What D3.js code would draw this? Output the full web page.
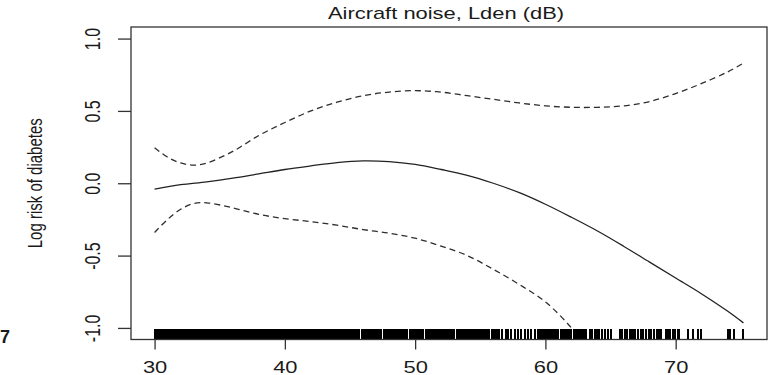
<!DOCTYPE html>
<html>
<head>
<meta charset="utf-8">
<script src="https://cdn.jsdelivr.net/npm/d3@7"></script>
<style>
  html, body { margin: 0; padding: 0; background: #fff; }
  svg { display: block; }
  text { font-family: "Liberation Sans", Arial, sans-serif; fill: #1a1a1a; }
</style>
</head>
<body>
<svg id="chart" width="769" height="375"></svg>
<script>
// Smooth term for aircraft noise (Lden, dB) on log risk of diabetes
const fitX = [30, 32, 34, 36, 38, 40, 42, 44, 46, 48, 50, 52, 54, 56, 58, 60, 62, 64, 66, 68, 70, 72, 74, 75.2];
const fitY = [-0.04, -0.01, 0.01, 0.035, 0.065, 0.095, 0.12, 0.143, 0.155, 0.15, 0.13, 0.095, 0.055, 0.0, -0.065, -0.145, -0.235, -0.33, -0.435, -0.545, -0.655, -0.765, -0.885, -0.965];

// Upper and lower confidence bands
const upperX = [30, 31, 32, 33, 34, 36, 38, 40, 42, 44, 46, 48, 50, 52, 54, 56, 58, 60, 62, 64, 66, 68, 70, 72, 74, 75.2];
const upperY = [0.245, 0.18, 0.14, 0.125, 0.14, 0.22, 0.33, 0.42, 0.50, 0.56, 0.605, 0.63, 0.64, 0.63, 0.605, 0.58, 0.555, 0.535, 0.525, 0.525, 0.535, 0.565, 0.62, 0.69, 0.77, 0.83];
const lowerX = [30, 31, 32, 33, 34, 36, 38, 40, 42, 44, 46, 48, 50, 52, 54, 56, 58, 60, 62, 63];
const lowerY = [-0.34, -0.25, -0.18, -0.14, -0.135, -0.17, -0.215, -0.245, -0.265, -0.29, -0.32, -0.345, -0.38, -0.435, -0.50, -0.595, -0.70, -0.82, -1.0, -1.12];

// Observed exposure levels shown as a rug
const rugValues = [
  30.0,30.1,30.2,30.3,30.4,30.5,30.6,30.7,30.8,30.9,
  31.0,31.1,31.2,31.3,31.4,31.5,31.6,31.7,31.8,31.9,
  32.0,32.1,32.2,32.3,32.4,32.5,32.6,32.7,32.8,32.9,
  33.0,33.1,33.2,33.3,33.4,33.5,33.6,33.7,33.8,33.9,
  34.0,34.1,34.2,34.3,34.4,34.5,34.6,34.7,34.8,34.9,
  35.0,35.1,35.2,35.3,35.4,35.5,35.6,35.7,35.8,35.9,
  36.0,36.1,36.2,36.3,36.4,36.5,36.6,36.7,36.8,36.9,
  37.0,37.1,37.2,37.3,37.4,37.5,37.6,37.7,37.8,37.9,
  38.0,38.1,38.2,38.3,38.4,38.5,38.6,38.7,38.8,38.9,
  39.0,39.1,39.2,39.3,39.4,39.5,39.6,39.7,39.8,39.9,
  40.0,40.1,40.2,40.3,40.4,40.5,40.6,40.7,40.8,40.9,
  41.0,41.1,41.2,41.3,41.4,41.5,41.6,41.7,41.8,41.9,
  42.0,42.1,42.2,42.3,42.4,42.5,42.6,42.7,42.8,42.9,
  43.0,43.1,43.2,43.3,43.4,43.5,43.6,43.7,43.8,43.9,
  44.0,44.1,44.2,44.3,44.4,44.5,44.6,44.7,44.8,44.9,
  45.0,45.1,45.2,45.3,45.4,45.5,45.6,45.7,
  45.9,46.0,46.1,46.2,46.3,46.4,46.5,46.6,
  46.8,46.9,47.0,47.1,47.2,47.3,47.4,
  47.6,47.7,47.8,47.9,48.0,48.1,48.2,48.3,48.4,48.5,48.6,48.7,48.8,48.9,49.0,49.1,49.2,49.3,49.4,
  49.6,49.7,49.8,49.9,50.0,50.1,50.2,50.3,50.4,50.5,50.6,
  50.8,50.9,51.0,51.1,51.2,
  51.4,51.5,51.6,51.7,51.8,51.9,52.0,52.1,52.2,52.3,52.4,52.5,52.6,52.7,52.8,52.9,53.0,
  53.2,53.3,53.4,53.5,
  53.7,53.8,53.9,54.0,54.1,54.2,54.3,54.4,54.5,
  54.7,54.8,54.9,55.0,55.1,55.2,55.3,55.4,55.5,55.6,55.7,
  55.9,56.0,56.1,56.2,56.3,56.4,
  56.70,56.95,57.13,57.39,57.64,57.89,58.15,58.41,58.66,58.92,59.17,
  59.4,59.5,59.6,59.7,59.8,59.9,60.0,60.1,60.2,60.3,60.4,60.5,60.6,60.7,60.8,60.9,61.0,
  61.2,61.3,61.4,
  61.6,61.7,61.8,61.9,62.0,
  62.2,62.3,62.4,62.5,62.6,62.7,62.8,62.9,63.0,63.1,
  63.39,63.59,63.77,63.95,64.15,64.33,64.54,64.79,65.00,
  65.7,65.8,65.9,66.1,66.2,66.3,66.5,66.6,66.7,
  66.87,67.07,67.35,67.53,67.73,67.93,68.12,68.37,
  68.6,68.7,68.8,68.9,
  69.26,69.43,69.59,69.77,69.95,70.15,70.28,
  70.92,71.30,71.69,71.95,
  73.99,74.17,74.50,75.13
];

const xTicks = [30, 40, 50, 60, 70];
const yTicks = [-1, -0.5, 0, 0.5, 1];
const yTickLabels = ["-1.0", "-0.5", "0.0", "0.5", "1.0"];
const title = "Aircraft noise, Lden (dB)";
const yLabel = "Log risk of diabetes";
const panelTag = "7";

const plotBox = { left: 131, right: 767, top: 27, bottom: 339.5 };
const stretch = 1.37;   // text is drawn wider than tall

const svg = d3.select("#chart");
const { left: pL, right: pR, top: pT, bottom: pB } = plotBox;

const x = d3.scaleLinear().domain([28.19, 77.01]).range([pL, pR]);
const y = d3.scaleLinear().domain([-1.08, 1.08]).range([pB, pT]);

svg.append("defs").append("clipPath").attr("id", "plotClip")
  .append("rect")
  .attr("x", pL).attr("y", pT)
  .attr("width", pR - pL).attr("height", pB - pT);

const plot = svg.append("g").attr("clip-path", "url(#plotClip)");

const line = d3.line()
  .x(d => x(d[0]))
  .y(d => y(d[1]))
  .curve(d3.curveCatmullRom.alpha(0.5));

// confidence bands (dashed)
[[upperX, upperY], [lowerX, lowerY]].forEach(([xs, ys]) => {
  plot.append("path")
    .datum(xs.map((v, i) => [v, ys[i]]))
    .attr("d", line)
    .attr("fill", "none")
    .attr("stroke", "#2e2e2e")
    .attr("stroke-width", 1.3)
    .attr("stroke-dasharray", "6,4");
});

// fitted curve
plot.append("path")
  .datum(fitX.map((v, i) => [v, fitY[i]]))
  .attr("d", line)
  .attr("fill", "none")
  .attr("stroke", "#222")
  .attr("stroke-width", 1.3);

// rug along the bottom
const rugLen = 11;
plot.append("g")
  .attr("shape-rendering", "crispEdges")
  .selectAll("line")
  .data(rugValues)
  .join("line")
  .attr("x1", d => x(d)).attr("x2", d => x(d))
  .attr("y1", pB).attr("y2", pB - rugLen)
  .attr("stroke", "#000")
  .attr("stroke-width", 2);

// frame
svg.append("rect")
  .attr("x", pL).attr("y", pT)
  .attr("width", pR - pL).attr("height", pB - pT)
  .attr("fill", "none")
  .attr("stroke", "#333")
  .attr("stroke-width", 1.3);

// x axis
const xAxis = svg.append("g")
  .attr("transform", `translate(0,${pB})`)
  .call(d3.axisBottom(x).tickValues(xTicks).tickSize(10).tickSizeOuter(0).tickFormat(d3.format("d")));
xAxis.select(".domain").remove();
xAxis.selectAll(".tick line").attr("stroke", "#333").attr("stroke-width", 1.3);
xAxis.selectAll(".tick text")
  .attr("y", 0).attr("dy", 0)
  .attr("transform", `translate(0,${373 - pB}) scale(${stretch},1)`)
  .attr("text-anchor", "middle")
  .style("font-size", "16px")
  .style("font-family", "Liberation Sans, Arial, sans-serif")
  .attr("fill", "#1a1a1a");

// y axis
const yAxis = svg.append("g")
  .attr("transform", `translate(${pL},0)`)
  .call(d3.axisLeft(y).tickValues(yTicks).tickSize(13).tickSizeOuter(0)
    .tickFormat((d, i) => yTickLabels[i]));
yAxis.select(".domain").remove();
yAxis.selectAll(".tick line").attr("stroke", "#333").attr("stroke-width", 1.3);
yAxis.selectAll(".tick text")
  .attr("x", 0).attr("y", 0).attr("dy", 0)
  .attr("transform", `translate(-31,0) scale(${stretch},1) rotate(-90)`)
  .attr("text-anchor", "middle")
  .style("font-size", "16px")
  .style("font-family", "Liberation Sans, Arial, sans-serif")
  .attr("fill", "#1a1a1a");

// title
svg.append("text")
  .attr("transform", `translate(446,19) scale(${stretch},1)`)
  .attr("text-anchor", "middle")
  .style("font-size", "16px")
  .text(title);

// y axis label
svg.append("text")
  .attr("transform", `translate(42,${(pT + pB) / 2}) scale(${stretch},1) rotate(-90)`)
  .attr("text-anchor", "middle")
  .style("font-size", "15px")
  .text(yLabel);

// panel number at the left edge
svg.append("text")
  .attr("transform", "translate(0,343)")
  .attr("text-anchor", "start")
  .style("font-size", "18px")
  .style("font-weight", "bold")
  .text(panelTag);
</script>
</body>
</html>
